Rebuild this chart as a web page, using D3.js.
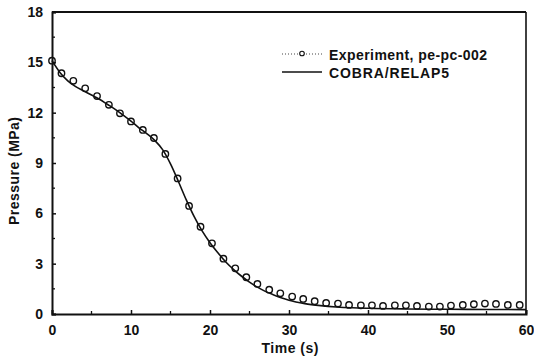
<!DOCTYPE html>
<html><head><meta charset="utf-8">
<script src="https://cdn.jsdelivr.net/npm/d3@7"></script>
<style>
html,body{margin:0;padding:0;background:#fff;}
svg{display:block;font-family:"Liberation Sans",Arial,sans-serif;font-weight:bold;}
</style></head>
<body>
<svg id="c" width="534" height="356"></svg>
<script>
// Experiment, pe-pc-002
const expTime = [0,1.2,2.7,4.2,5.7,7.2,8.6,10.0,11.5,12.9,14.35,15.9,17.35,18.8,20.25,21.7,23.2,24.6,26.0,27.5,28.9,30.4,31.8,33.25,34.7,36.2,37.6,39.1,40.5,41.9,43.4,44.8,46.2,47.7,49.1,50.5,52.0,53.4,54.8,56.2,57.7,59.2];
const expPressure = [15.1,14.35,13.9,13.45,12.99,12.47,11.96,11.48,10.97,10.49,9.54,8.08,6.44,5.2,4.21,3.3,2.72,2.19,1.79,1.45,1.23,1.04,0.9,0.76,0.66,0.62,0.54,0.52,0.52,0.48,0.52,0.52,0.48,0.44,0.44,0.5,0.54,0.58,0.62,0.6,0.54,0.54];
// COBRA/RELAP5
const modelTime = [0,1,2,3,4,5,6,7,8,9,10,11,12,13,14,15,16,17,18,19,20,21,22,23,24,25,26,27,28,29,30,32,34,36,38,40,45,50,55,60];
const modelPressure = [15.1,14.4,13.9,13.55,13.3,13.05,12.8,12.5,12.2,11.85,11.5,11.1,10.75,10.35,9.8,8.95,7.9,6.8,5.8,4.95,4.25,3.65,3.1,2.65,2.25,1.9,1.6,1.35,1.15,0.97,0.82,0.62,0.5,0.42,0.37,0.34,0.3,0.28,0.27,0.26];
const xTicks = [0,10,20,30,40,50,60];
const xMinor = [5,15,25,35,45,55];
const yTicks = [0,3,6,9,12,15,18];
const yMinor = [1.5,4.5,7.5,10.5,13.5,16.5];
const legendLabels = ["Experiment, pe-pc-002","COBRA/RELAP5"];

const svg = d3.select("#c");
const L=52, R=526, T=12, B=314;
const x = d3.scaleLinear().domain([0,60]).range([L,R]);
const y = d3.scaleLinear().domain([0,18]).range([B,T]);

// frame
svg.append("line").attr("x1",L).attr("x2",R).attr("y1",T).attr("y2",T).attr("stroke","#111").attr("stroke-width",2);
svg.append("line").attr("x1",R).attr("x2",R).attr("y1",T).attr("y2",B).attr("stroke","#111").attr("stroke-width",1.6);

// axes
const xAxis = d3.axisBottom(x).tickValues(xTicks).tickSize(-4).tickPadding(12).tickFormat(d3.format("d"));
const gx = svg.append("g").attr("transform",`translate(0,${B})`).call(xAxis);
const yAxis = d3.axisLeft(y).tickValues(yTicks).tickSize(-4).tickPadding(9).tickFormat(d3.format("d"));
const gy = svg.append("g").attr("transform",`translate(${L},0)`).call(yAxis);
[gx,gy].forEach(g=>{
  g.select(".domain").attr("stroke","#111").attr("stroke-width",2);
  g.selectAll(".tick line").attr("stroke","#111").attr("stroke-width",1.5);
  g.selectAll(".tick text").attr("fill","#111").style("font-size","14px").style("font-weight","bold").style("font-family","'Liberation Sans',Arial,sans-serif");
});
gx.selectAll(".tick text").attr("dy","0.65em");
// minor ticks
svg.append("g").selectAll("line").data(xMinor).join("line")
  .attr("x1",d=>x(d)).attr("x2",d=>x(d)).attr("y1",B).attr("y2",B-3).attr("stroke","#111").attr("stroke-width",1.3);
svg.append("g").selectAll("line").data(yMinor).join("line")
  .attr("x1",L).attr("x2",L+3).attr("y1",d=>y(d)).attr("y2",d=>y(d)).attr("stroke","#111").attr("stroke-width",1.3);

// axis titles
svg.append("text").attr("x",(L+R)/2+1).attr("y",353).attr("text-anchor","middle")
  .style("font-size","14px").attr("fill","#111").attr("textLength",57).attr("lengthAdjust","spacing").text("Time (s)");
svg.append("text").attr("transform",`translate(19,${(T+B)/2+8}) rotate(-90)`).attr("text-anchor","middle")
  .style("font-size","14px").attr("fill","#111").attr("textLength",108).attr("lengthAdjust","spacing").text("Pressure (MPa)");

// model line
const line = d3.line().x((d,i)=>x(modelTime[i])).y(d=>y(d)).curve(d3.curveMonotoneX);
svg.append("path").datum(modelPressure).attr("d",line).attr("fill","none").attr("stroke","#111").attr("stroke-width",1.6);

// experiment points
svg.append("g").selectAll("circle").data(expPressure).join("circle")
  .attr("cx",(d,i)=>x(expTime[i])).attr("cy",d=>y(d)).attr("r",3.2)
  .attr("fill","none").attr("stroke","#111").attr("stroke-width",1.4);

// legend
const lg = svg.append("g");
lg.append("line").attr("x1",282).attr("x2",322).attr("y1",54).attr("y2",54)
  .attr("stroke","#444").attr("stroke-width",1).attr("stroke-dasharray","1,2");
lg.append("circle").attr("cx",302).attr("cy",53.5).attr("r",2.3).attr("fill","#fff").attr("stroke","#111").attr("stroke-width",1.1);
lg.append("line").attr("x1",282).attr("x2",322).attr("y1",72).attr("y2",72).attr("stroke","#111").attr("stroke-width",1.4);
const legendWidths = [158,120];
lg.selectAll("text").data(legendLabels).join("text")
  .attr("x",329).attr("y",(d,i)=>60+i*18).style("font-size","14px").attr("fill","#111")
  .attr("textLength",(d,i)=>legendWidths[i]).attr("lengthAdjust","spacing").text(d=>d);
</script>
</body></html>
